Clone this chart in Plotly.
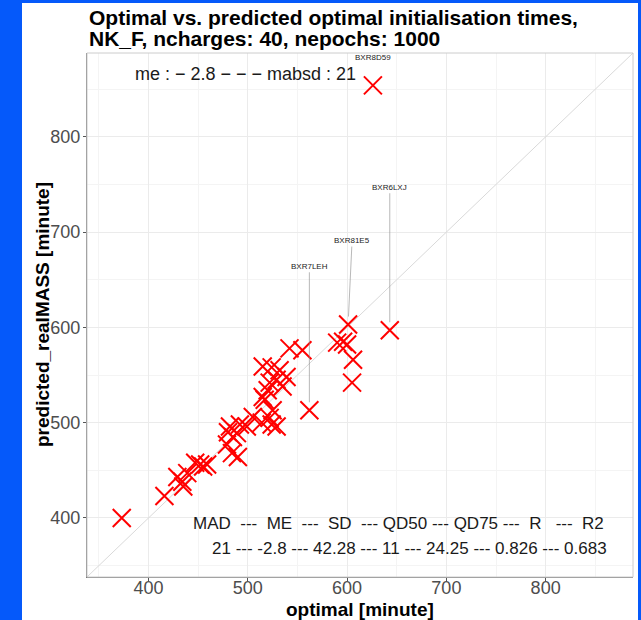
import plotly.graph_objects as go

# data (optimal, predicted)
optimal = [373, 416, 429, 434, 439, 435, 447, 452, 455, 459,
           480, 482, 485, 489, 479, 484, 490, 492, 499, 505,
           514, 522, 524, 529, 525, 515, 520, 522, 517, 529,
           535, 539, 515, 524, 532, 542, 555, 562, 590, 596,
           600, 601, 606, 605, 643, 626]
predicted = [400, 423, 443, 438, 447, 433, 458, 456, 454, 456,
             490, 496, 485, 489, 477, 468, 464, 498, 496, 506,
             500, 505, 498, 496, 513, 527, 534, 542, 524, 545,
             538, 548, 559, 558, 555, 578, 576, 513, 584, 585,
             582, 603, 566, 542, 597, 854]

label_ids = ["BXR8D59", "BXR6LXJ", "BXR81E5", "BXR7LEH"]
label_x = [626, 643, 601, 562]
label_y = [854, 597, 603, 513]
label_ax = [0, 0, 4, 0]
label_ay = [-28, -143, -84, -144]

axis_range = [338, 888]
tick_vals = [400, 500, 600, 700, 800]

title_lines = ["<b>Optimal vs. predicted optimal initialisation times,</b>",
               "<b>NK_F, ncharges: 40, nepochs: 1000</b>"]
me_text = "me : \u2212 2.8 \u2212 \u2212 \u2212 mabsd : 21"
stats_head = "MAD\u00a0\u00a0---\u00a0\u00a0ME\u00a0\u00a0---\u00a0\u00a0SD\u00a0\u00a0---\u00a0QD50\u00a0---\u00a0QD75\u00a0---\u00a0\u00a0R\u00a0\u00a0\u00a0---\u00a0\u00a0R2"
stats_vals = "21 --- -2.8 --- 42.28 --- 11 --- 24.25 --- 0.826 --- 0.683"

W, H = 641, 620
L, R, T, B = 87, 8, 53, 43
pw, ph = W - L - R, H - T - B

def px(x):
    return (x - L) / pw

def py(y):
    return (H - B - y) / ph

FONT = "Liberation Sans, Arial, sans-serif"

fig = go.Figure()

# identity line
fig.add_trace(go.Scatter(x=axis_range, y=axis_range, mode="lines",
                         line=dict(color="#d9d9d9", width=1), hoverinfo="skip",
                         showlegend=False))

fig.add_trace(go.Scatter(x=optimal, y=predicted, mode="markers",
                         marker=dict(symbol="x-thin", size=18, color="#ff0000",
                                     line=dict(color="#ff0000", width=2)),
                         showlegend=False))

annotations = []
for i, (lid, lx, ly, ax, ay) in enumerate(zip(label_ids, label_x, label_y, label_ax, label_ay)):
    if i == 0:
        annotations.append(dict(x=lx, y=ly, xref="x", yref="y", text=lid, showarrow=False,
                                yshift=-ay, font=dict(size=8, color="#222", family=FONT)))
    else:
        annotations.append(dict(x=lx, y=ly, xref="x", yref="y", text=lid, showarrow=True,
                                arrowhead=0, arrowwidth=0.6, arrowcolor="#888", ax=ax, ay=ay,
                                standoff=8, font=dict(size=8, color="#222", family=FONT)))

annotations += [
    dict(x=px(87), y=py(17), xref="paper", yref="paper", text=title_lines[0], showarrow=False,
         xanchor="left", yanchor="middle", font=dict(size=21, color="#000", family=FONT)),
    dict(x=px(87), y=py(38), xref="paper", yref="paper", text=title_lines[1], showarrow=False,
         xanchor="left", yanchor="middle", font=dict(size=21, color="#000", family=FONT)),
    dict(x=px(245), y=py(74), xref="paper", yref="paper", text=me_text, showarrow=False,
         xanchor="center", yanchor="middle", font=dict(size=18, color="#1a1a1a", family=FONT)),
    dict(x=px(606), y=py(523), xref="paper", yref="paper", text=stats_head, showarrow=False,
         xanchor="right", yanchor="middle", font=dict(size=17, color="#1a1a1a", family=FONT)),
    dict(x=px(609), y=py(548), xref="paper", yref="paper", text=stats_vals, showarrow=False,
         xanchor="right", yanchor="middle", font=dict(size=17, color="#1a1a1a", family=FONT)),
    dict(x=px(360), y=py(609), xref="paper", yref="paper", text="<b>optimal [minute]</b>",
         showarrow=False, xanchor="center", yanchor="middle",
         font=dict(size=19, color="#000", family=FONT)),
    dict(x=px(42), y=py(315), xref="paper", yref="paper", text="<b>predicted_realMASS [minute]</b>",
         showarrow=False, xanchor="center", yanchor="middle", textangle=-90,
         font=dict(size=19, color="#000", family=FONT)),
]

shapes = [
    # white page inside the blue frame
    dict(type="rect", xref="paper", yref="paper", x0=px(22), x1=px(638), y0=py(625), y1=py(3),
         fillcolor="white", line=dict(width=0), layer="below"),
    # light panel border
    dict(type="rect", xref="paper", yref="paper", x0=0, x1=1, y0=0, y1=1,
         line=dict(color="#cccccc", width=1), fillcolor="rgba(0,0,0,0)", layer="above"),
]

axis_common = dict(range=axis_range, tickvals=tick_vals, showgrid=True,
                   gridcolor="#ebebeb", gridwidth=1, zeroline=False,
                   showline=True, linecolor="#7a7a7a", linewidth=1.2,
                   ticks="outside", ticklen=3, tickcolor="#555", tickwidth=1,
                   tickfont=dict(size=18, color="#4d4d4d", family=FONT),
                   minor=dict(dtick=50, tick0=0, showgrid=True, gridcolor="#f4f4f4", gridwidth=1,
                              ticks=""))

fig.update_layout(
    width=W, height=H,
    margin=dict(l=L, r=R, t=T, b=B),
    paper_bgcolor="#0559fa",
    plot_bgcolor="white",
    xaxis=dict(axis_common, ticklabelstandoff=-9),
    yaxis=dict(axis_common, ticklabelstandoff=-1),
    annotations=annotations,
    shapes=shapes,
    showlegend=False,
)

fig.write_html("out.html")
